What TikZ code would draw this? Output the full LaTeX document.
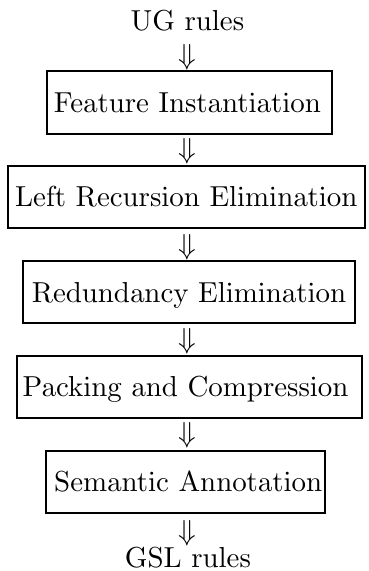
\documentclass[tikz,border=0pt]{standalone}
\font\dgfont=cmr10 at 28.9bp
\font\dgsym=cmsy10 at 28.9bp
\tikzset{
  stagebox/.style={draw, line width=2bp, inner sep=0pt, font=\dgfont,
    text height=19.7bp, text depth=0pt},
  iotext/.style={inner sep=0pt, font=\dgfont, text height=19.7bp, text depth=0pt},
  dnarrow/.style={inner sep=0pt, font=\dgsym}
}
\begin{document}
\begin{tikzpicture}[x=1bp,y=-1bp]
\useasboundingbox (0,0) rectangle (368,571);
\node[iotext] (ug) at (187.5,20.3) {UG rules};
\node[dnarrow] (a1) at (187.5,57.5) {\char43};
\node[stagebox, minimum width=285.3bp, minimum height=63.5bp] (s1) at (189.4,102.7) {Feature Instantiation\hspace*{3.8bp}};
\node[dnarrow] (a2) at (187.5,151.5) {\char43};
\node[stagebox, minimum width=356.4bp, minimum height=61bp] (s2) at (186.5,197) {Left Recursion Elimination};
\node[dnarrow] (a3) at (187.5,247) {\char43};
\node[stagebox, minimum width=332.7bp, minimum height=62.5bp] (s3) at (189.1,292.2) {Redundancy Elimination};
\node[dnarrow] (a4) at (187.5,341.5) {\char43};
\node[stagebox, minimum width=345bp, minimum height=62bp] (s4) at (189.7,387) {Packing and Compression\hspace*{8bp}};
\node[dnarrow] (a5) at (187.5,435.5) {\char43};
\node[stagebox, minimum width=278.8bp, minimum height=62bp] (s5) at (185.6,482) {\hspace*{5.4bp}Semantic Annotation};
\node[dnarrow] (a6) at (187.5,533.5) {\char43};
\node[iotext] (gsl) at (188,557.5) {GSL rules};
\end{tikzpicture}
\end{document}
